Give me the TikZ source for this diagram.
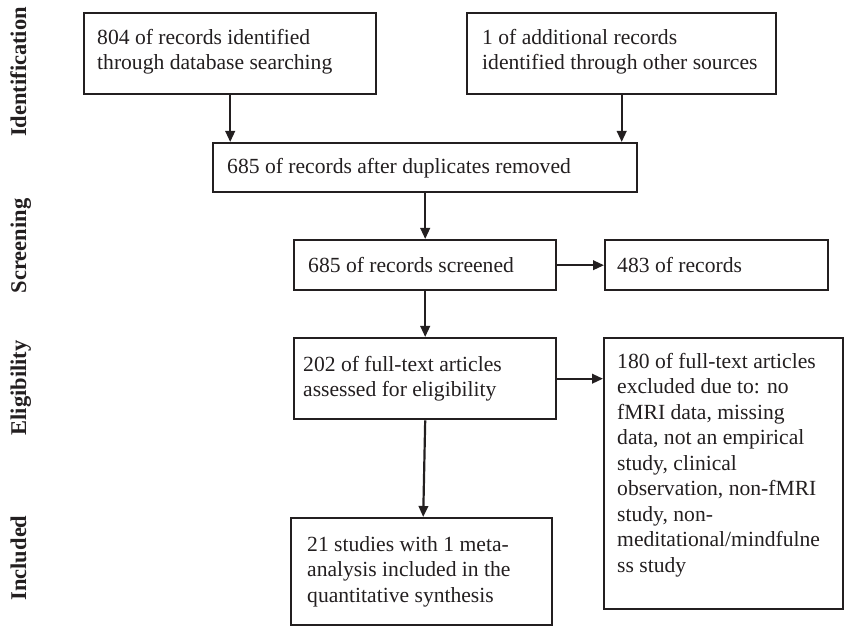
\documentclass[tikz,border=0pt]{standalone}
\usepackage{fontspec}
\setmainfont{Liberation Serif}
\usetikzlibrary{arrows.meta}
\definecolor{ink}{HTML}{231F20}
\newcommand\bodyfnt{\fontsize{21.6}{25.5}\selectfont}
\newcommand\labfnt{\fontsize{22.5}{25}\selectfont\bfseries}
\begin{document}
\begin{tikzpicture}[x=1pt,y=-1pt,
  frame/.style={draw=ink, line width=2.4pt, fill=white, inner sep=0pt, anchor=north west},
  txt/.style={inner sep=0pt, align=left, anchor=west, font=\bodyfnt, text=ink},
  lab/.style={inner sep=0pt, rotate=90, anchor=base, font=\labfnt, text=ink},
  arr/.style={draw=ink, line width=2.2pt, -{Triangle[length=11pt,width=9.5pt]}}]
\useasboundingbox (0,0) rectangle (854,636);

% stage labels
\node[lab] (l1) at (26,72)  {Identification};
\node[lab] (l2) at (26,246) {Screening};
\node[lab] (l3) at (26,388) {Eligibility};
\node[lab] (l4) at (26,558) {Included};

% boxes
\node[frame, minimum width=292pt, minimum height=81pt]  (b1) at (83,12)  {};
\node[frame, minimum width=309pt, minimum height=81pt]  (b2) at (466,12) {};
\node[frame, minimum width=424pt, minimum height=49pt]  (b3) at (212,142) {};
\node[frame, minimum width=262pt, minimum height=50pt]  (b4) at (293,239) {};
\node[frame, minimum width=223pt, minimum height=50pt]  (b5) at (604,239) {};
\node[frame, minimum width=262pt, minimum height=81pt]  (b6) at (293,337) {};
\node[frame, minimum width=239pt, minimum height=271pt] (b7) at (603,337) {};
\node[frame, minimum width=261pt, minimum height=107pt] (b8) at (290,517) {};

% texts
\node[txt] (t1) at ([xshift=14pt,yshift=2pt]b1.west) {804 of records identified\\through database searching};
\node[txt] (t2) at ([xshift=16pt,yshift=2pt]b2.west) {1 of additional records\\identified through other sources};
\node[txt] (t3) at ([xshift=15pt]b3.west) {685 of records after duplicates removed};
\node[txt] (t4) at ([xshift=15pt]b4.west) {685 of records screened};
\node[txt] (t5) at ([xshift=13pt]b5.west) {483 of records};
\node[txt] (t6) at ([xshift=10pt]b6.west) {202 of full-text articles\\assessed for eligibility};
\node[txt, anchor=north west] (t7) at ([xshift=14pt,yshift=-16pt]b7.north west)
  {180 of full-text articles\\excluded due to: no\\fMRI data, missing\\data, not an empirical\\study, clinical\\observation, non-fMRI\\study, non-\\meditational/mindfulne\\ss study};
\node[txt] (t8) at ([xshift=17pt]b8.west) {21 studies with 1 meta-\\analysis included in the\\quantitative synthesis};

% connectors
\draw[arr] (b1.south) -- (b1.south |- b3.north);
\draw[arr] (b2.south) -- (b2.south |- b3.north);
\draw[arr] (b3.south) -- (b4.north);
\draw[arr] (b4.east) -- (b5.west);
\draw[arr] (b4.south) -- (b6.north);
\draw[arr] (b6.east) -- (b6.east -| b7.west);
\coordinate (c8) at ([xshift=1.5pt]b8.north);
\draw[arr] (b6.south) -- (c8);
\end{tikzpicture}
\end{document}
